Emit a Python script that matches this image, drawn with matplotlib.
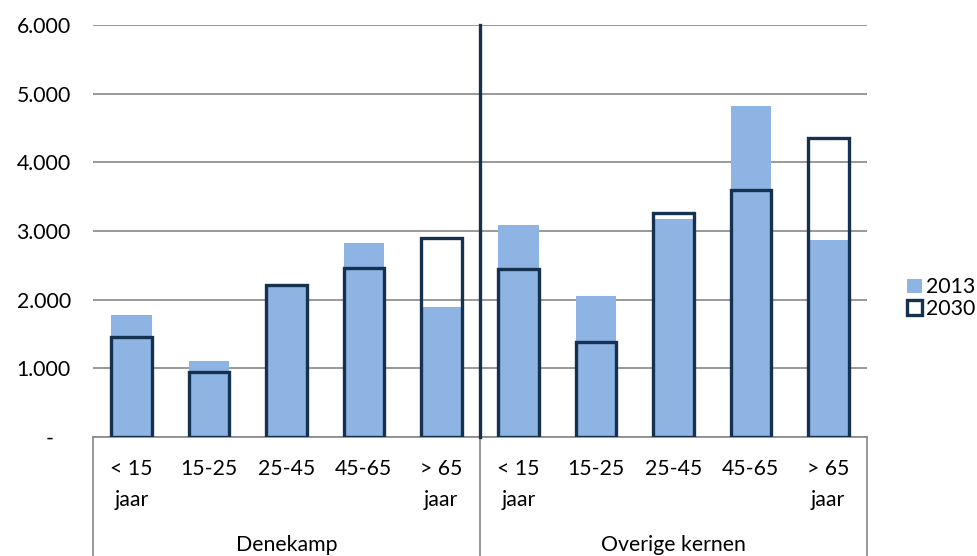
import matplotlib
matplotlib.use("Agg")
import matplotlib.pyplot as plt
from matplotlib.patches import Patch
import numpy as np

plt.rcParams['font.family'] = ['Lato', 'DejaVu Sans']

groups = ["Denekamp", "Overige kernen"]
age_labels = ["< 15\njaar", "15-25", "25-45", "45-65", "> 65\njaar"]
series_names = ["2013", "2030"]
values_2013 = [1770, 1110, 2200, 2830, 1900, 3090, 2060, 3180, 4820, 2870]
values_2030 = [1460, 950, 2210, 2460, 2900, 2450, 1390, 3260, 3600, 4360]
y_ticks = [0, 1000, 2000, 3000, 4000, 5000, 6000]
y_tick_labels = ["-   ", "1.000", "2.000", "3.000", "4.000", "5.000", "6.000"]

FILL = "#8EB4E3"
NAVY = "#16304F"
GRID = "#888888"
FS = 15.3

W, H = 978, 556
fig = plt.figure(figsize=(W / 100, H / 100), dpi=100)
L, R, T, B = 93, 867, 25, 437
ax = fig.add_axes([L / W, 1 - B / H, (R - L) / W, (B - T) / H])

n = len(values_2013)
x = np.arange(n) + 0.5
bw = 0.525
ax.bar(x, values_2013, width=bw, color=FILL, zorder=2)
ax.bar(x, values_2030, width=bw, facecolor="none", edgecolor=NAVY, linewidth=2.4, zorder=3)

ax.set_xlim(0, n)
ax.set_ylim(0, 6000)
ax.set_yticks(y_ticks)
ax.set_yticklabels(y_tick_labels, fontsize=FS)
ax.tick_params(axis='y', length=0, pad=16)
ax.set_xticks([])
ax.yaxis.grid(True, color=GRID, linewidth=1.2, zorder=0)
ax.set_axisbelow(True)
for s in ["left", "right", "top"]:
    ax.spines[s].set_visible(False)
ax.spines["bottom"].set_color(GRID)
ax.spines["bottom"].set_linewidth(1.2)

# separator between groups
ax.plot([5, 5], [0, 6000], color=NAVY, linewidth=2.4, zorder=4, clip_on=False)

# category labels
trans = ax.get_xaxis_transform()
ph = B - T
labels_all = age_labels * len(groups)
for xi, lab in zip(x, labels_all):
    lines = lab.split("\n")
    for k, line in enumerate(lines):
        ypix = 469 + 31 * k
        ax.text(xi, -(ypix - B) / ph, line, transform=trans, ha="center", va="center", fontsize=FS)
for gi, g in enumerate(groups):
    ax.text(gi * 5 + 2.5, -(545 - B) / ph, g, transform=trans, ha="center", va="center", fontsize=FS)

# frame lines below axis
for xv in [0, 5, 10]:
    ax.plot([xv, xv], [0, -0.35], transform=trans, color=GRID, linewidth=1.2, clip_on=False)

handles = [Patch(facecolor=FILL, edgecolor="none"),
           Patch(facecolor="white", edgecolor=NAVY, linewidth=2.4)]
fig.legend(handles, series_names, loc="center left", bbox_to_anchor=(907 / W, 1 - 298 / H),
           frameon=False, fontsize=FS, handlelength=0.7, handleheight=0.7,
           handletextpad=0.2, labelspacing=0.05, borderpad=0, borderaxespad=0)

fig.savefig("out.png", dpi=100)
